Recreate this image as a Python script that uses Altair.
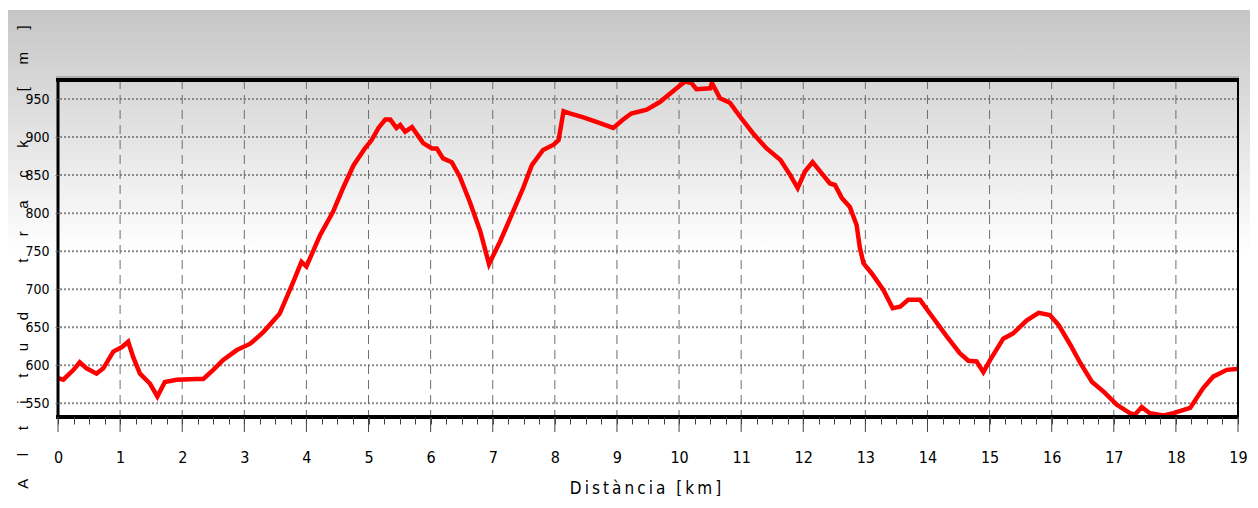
import altair as alt
import pandas as pd

# ---- data ----
km = [0.0, 0.085, 0.25, 0.35, 0.46, 0.62, 0.73, 0.89, 1.03, 1.13, 1.21, 1.32, 1.48, 1.60,
      1.72, 1.91, 2.23, 2.34, 2.50, 2.66, 2.88, 3.09, 3.23, 3.31, 3.57, 3.79, 3.92, 4.00,
      4.22, 4.43, 4.59, 4.76, 4.94, 5.05, 5.16, 5.27, 5.35, 5.45, 5.51, 5.59, 5.70, 5.88,
      6.02, 6.10, 6.20, 6.34, 6.47, 6.63, 6.80, 6.94, 7.12, 7.28, 7.49, 7.63, 7.81, 7.98,
      8.06, 8.14, 8.24, 8.46, 8.67, 8.94, 9.10, 9.23, 9.48, 9.69, 9.99, 10.10, 10.20, 10.28,
      10.50, 10.53, 10.66, 10.82, 10.98, 11.19, 11.41, 11.63, 11.79, 11.91, 12.03, 12.15,
      12.30, 12.43, 12.51, 12.62, 12.75, 12.86, 12.91, 12.97, 13.10, 13.29, 13.44, 13.56,
      13.69, 13.88, 14.04, 14.31, 14.52, 14.66, 14.79, 14.90, 15.01, 15.22, 15.38, 15.60,
      15.79, 15.97, 16.11, 16.30, 16.46, 16.65, 16.84, 17.05, 17.26, 17.34, 17.45, 17.58,
      17.80, 17.96, 18.23, 18.44, 18.60, 18.82, 18.98, 19.0]
elev = [583, 581, 594, 604, 596, 589, 596, 618, 624, 631, 611, 589, 576, 559,
        578, 581, 582, 582, 594, 607, 620, 628, 638, 644, 668, 710, 736, 730,
        771, 802, 833, 863, 885, 896, 912, 923, 923, 912, 916, 907, 913, 892,
        885, 885, 872, 867, 848, 815, 776, 733, 763, 793, 833, 863, 883, 890,
        896, 934, 931, 926, 920, 912, 923, 931, 936, 946, 966, 973, 971, 963,
        964, 971, 951, 945, 927, 905, 885, 870, 850, 833, 855, 867,
        852, 839, 837, 820, 808, 784, 755, 734, 721, 699, 675, 677,
        686, 686, 668, 638, 616, 606, 605, 591, 607, 635, 642, 659,
        669, 666, 653, 627, 603, 578, 565, 548, 537, 535, 545, 537,
        534, 537, 544, 570, 585, 594, 595, 595]

y_ticks = [550, 600, 650, 700, 750, 800, 850, 900, 950]
x_major = list(range(0, 20))
x_minor = [i / 4 for i in range(0, 77)]
x_grid = list(range(1, 19))

Y_TITLE = "Altitud track [m]"
X_TITLE = "Distància [km]"

# ---- layout ----
W, H = 1180, 337
NARROW = "Liberation Sans Narrow, DejaVu Sans Condensed, Arial Narrow, sans-serif"
SANS = "Liberation Sans, Arial, sans-serif"

xs = alt.Scale(domain=[0, 19], nice=False, zero=False)
ys = alt.Scale(domain=[532, 975], nice=False, zero=False)

y_title = "\u2003\u2002".join(c if c != " " else "\u00a0" for c in Y_TITLE)
x_title = "\u2009".join(c if c != " " else "\u00a0" for c in X_TITLE)

AXX = alt.Axis(
    values=x_minor, grid=False, domain=False, ticks=True, tickSize=7,
    tickColor="#444444", tickWidth=1, zindex=2,
    labelExpr="datum.value % 1 === 0 ? format(datum.value, 'd') : ''",
    labelFlush=False, labelOverlap=False, labelPadding=33, labelBaseline="middle",
    labelFont=NARROW, labelFontSize=16, labelColor="#000000",
    title=x_title, titleFont=NARROW, titleFontSize=17, titleFontWeight="normal",
    titleColor="#000000", titleX=587, titleY=76, titleAlign="center",
    titleBaseline="alphabetic")
AXY = alt.Axis(
    values=y_ticks, grid=False, domain=False, ticks=True, tickSize=3,
    tickColor="#666666", labelPadding=6, labelFlush=False, zindex=2,
    labelFont=NARROW, labelFontSize=14, labelColor="#000000",
    title=y_title, titleFont=SANS, titleFontSize=15, titleFontWeight="normal",
    titleColor="#000000", titleAngle=270, titleX=-36, titleY=176.5,
    titleAlign="center", titleBaseline="middle")

profile = pd.DataFrame({"km": km, "elev": elev})
one = pd.DataFrame({"d": [0]})

bg = alt.Chart(one).mark_rect(
    fill=alt.LinearGradient(
        gradient="linear",
        stops=[alt.GradientStop(color="#c6c6c6", offset=0),
               alt.GradientStop(color="#ffffff", offset=0.5),
               alt.GradientStop(color="#ffffff", offset=1)],
        x1=0, x2=0, y1=0, y2=1)
).encode(x=alt.value(-52), x2=alt.value(W + 14), y=alt.value(-70), y2=alt.value(416))

hgrid = alt.Chart(pd.DataFrame({"elev": y_ticks})).mark_rule(
    color="#8a8a8a", strokeWidth=2, strokeDash=[2, 2]
).encode(y=alt.Y("elev:Q", scale=ys, axis=AXY))

vgrid = alt.Chart(pd.DataFrame({"km": x_grid})).mark_rule(
    color="#6e6e6e", strokeWidth=1, strokeDash=[9, 6]
).encode(x=alt.X("km:Q", scale=xs, axis=AXX))

major = alt.Chart(pd.DataFrame({"km": x_major})).mark_rule(
    color="#444444", strokeWidth=1
).encode(x=alt.X("km:Q", scale=xs, axis=AXX), y=alt.value(H), y2=alt.value(H + 15))

line = alt.Chart(profile).mark_line(color="#ff0000", strokeWidth=4.5).encode(
    x=alt.X("km:Q", scale=xs, axis=AXX),
    y=alt.Y("elev:Q", scale=ys, axis=AXY),
)

shadow = alt.Chart(one).mark_rule(color="#a0a0a0", strokeWidth=1.5).encode(
    x=alt.value(-2), x2=alt.value(W + 1), y=alt.value(-3))
top = alt.Chart(one).mark_rule(color="#000000", strokeWidth=4).encode(
    x=alt.value(-2), x2=alt.value(W + 1), y=alt.value(0))
bottom = alt.Chart(one).mark_rule(color="#000000", strokeWidth=4).encode(
    x=alt.value(-2), x2=alt.value(W + 1), y=alt.value(H))
left = alt.Chart(one).mark_rule(color="#000000", strokeWidth=3).encode(
    x=alt.value(0), y=alt.value(0), y2=alt.value(H))
right = alt.Chart(one).mark_rule(color="#000000", strokeWidth=2).encode(
    x=alt.value(W), y=alt.value(0), y2=alt.value(H))

chart = alt.layer(bg, hgrid, vgrid, line, shadow, top, bottom, left, right, major).properties(
    width=W, height=H,
    autosize=alt.AutoSizeParams(type="none"),
    padding={"left": 50, "top": 72, "right": 12, "bottom": 79},
).configure_view(stroke=None).configure(background="#ffffff")

chart.save("out.html", embed_options={"renderer": "svg", "actions": False})
